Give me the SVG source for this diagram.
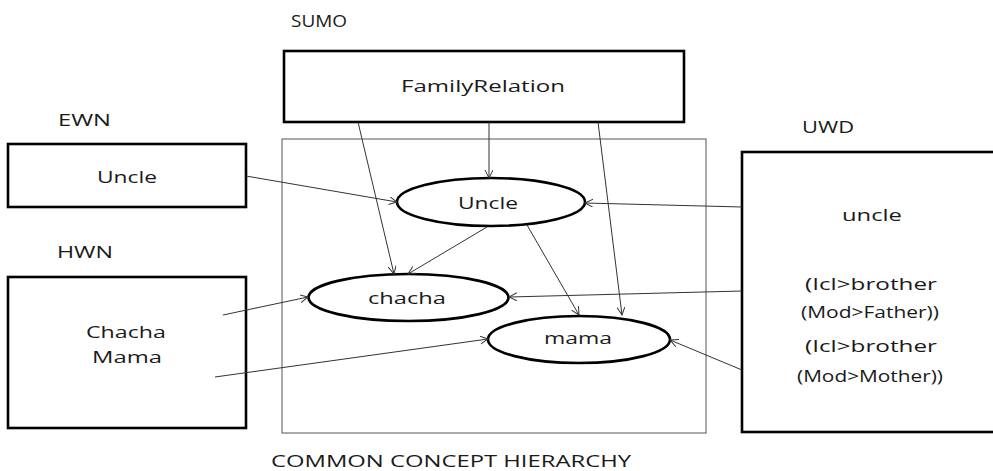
<svg xmlns="http://www.w3.org/2000/svg" width="993" height="471" viewBox="0 0 993 471">
<style>
.t{font-family:"Open Sans","Liberation Sans",sans-serif;font-size:15.5px;fill:#1a1a1a}
.c{text-anchor:middle}
.box{fill:#fff;stroke:#000;stroke-width:2.6}
.ell{fill:#fff;stroke:#000;stroke-width:2.6}
.frame{fill:none;stroke:#555;stroke-width:1}
.con line{stroke:#333;stroke-width:1;marker-end:url(#arr)}
</style>
<defs>
<marker id="arr" markerUnits="userSpaceOnUse" markerWidth="10" markerHeight="10" refX="8" refY="4" orient="auto">
<path d="M0,0 L8,4 L0,8" fill="none" stroke="#333" stroke-width="1"/>
</marker>
</defs>
<rect width="993" height="471" fill="#fff"/>
<g id="common">
<rect class="frame" x="282" y="139" width="424" height="294"/>
<text class="t" x="271" y="467" textLength="360" lengthAdjust="spacingAndGlyphs">COMMON CONCEPT HIERARCHY</text>
</g>
<g id="sumo">
<text class="t" x="291" y="27" textLength="56" lengthAdjust="spacingAndGlyphs">SUMO</text>
<rect class="box" x="284" y="51" width="400" height="71"/>
<text class="t c" x="483" y="92" textLength="164" lengthAdjust="spacingAndGlyphs">FamilyRelation</text>
</g>
<g id="ewn">
<text class="t" x="58" y="125.5" textLength="53" lengthAdjust="spacingAndGlyphs">EWN</text>
<rect class="box" x="8" y="144" width="238" height="63"/>
<text class="t c" x="127" y="182.5" textLength="60" lengthAdjust="spacingAndGlyphs">Uncle</text>
</g>
<g id="hwn">
<text class="t" x="57" y="257.5" textLength="56" lengthAdjust="spacingAndGlyphs">HWN</text>
<rect class="box" x="8" y="277" width="238" height="151"/>
<text class="t c" x="126" y="337.5" textLength="80" lengthAdjust="spacingAndGlyphs">Chacha</text>
<text class="t c" x="127" y="362.5" textLength="70" lengthAdjust="spacingAndGlyphs">Mama</text>
</g>
<g id="uwd">
<text class="t" x="802" y="133" textLength="52" lengthAdjust="spacingAndGlyphs">UWD</text>
<rect class="box" x="742" y="152" width="270" height="280"/>
<text class="t c" x="872" y="221" textLength="60" lengthAdjust="spacingAndGlyphs">uncle</text>
<text class="t c" x="871" y="290" textLength="132" lengthAdjust="spacingAndGlyphs">(Icl&gt;brother</text>
<text class="t c" x="870" y="318" textLength="138" lengthAdjust="spacingAndGlyphs">(Mod&gt;Father))</text>
<text class="t c" x="871" y="352" textLength="132" lengthAdjust="spacingAndGlyphs">(Icl&gt;brother</text>
<text class="t c" x="870" y="382" textLength="146" lengthAdjust="spacingAndGlyphs">(Mod&gt;Mother))</text>
</g>
<g id="n-uncle">
<ellipse class="ell" cx="491" cy="202" rx="94" ry="24"/>
<text class="t c" x="488" y="208.5" textLength="60" lengthAdjust="spacingAndGlyphs">Uncle</text>
</g>
<g id="n-chacha">
<ellipse class="ell" cx="408.5" cy="297.5" rx="100" ry="23.5"/>
<text class="t c" x="407" y="303.5" textLength="78" lengthAdjust="spacingAndGlyphs">chacha</text>
</g>
<g id="n-mama">
<ellipse class="ell" cx="579" cy="339.5" rx="91" ry="23.5"/>
<text class="t c" x="578" y="344" textLength="68" lengthAdjust="spacingAndGlyphs">mama</text>
</g>
<g id="connectors" class="con">
<line x1="489" y1="122" x2="489" y2="178"/>
<line x1="358" y1="122" x2="394" y2="274"/>
<line x1="598" y1="122" x2="622" y2="315"/>
<line x1="246" y1="176" x2="397" y2="202"/>
<line x1="487" y1="227" x2="408" y2="274"/>
<line x1="527" y1="225" x2="579" y2="315"/>
<line x1="742" y1="207" x2="585" y2="203"/>
<line x1="742" y1="291" x2="509" y2="297"/>
<line x1="742" y1="370" x2="670" y2="340"/>
<line x1="223" y1="315" x2="308" y2="297"/>
<line x1="215" y1="377" x2="488" y2="339"/>
</g>
</svg>
